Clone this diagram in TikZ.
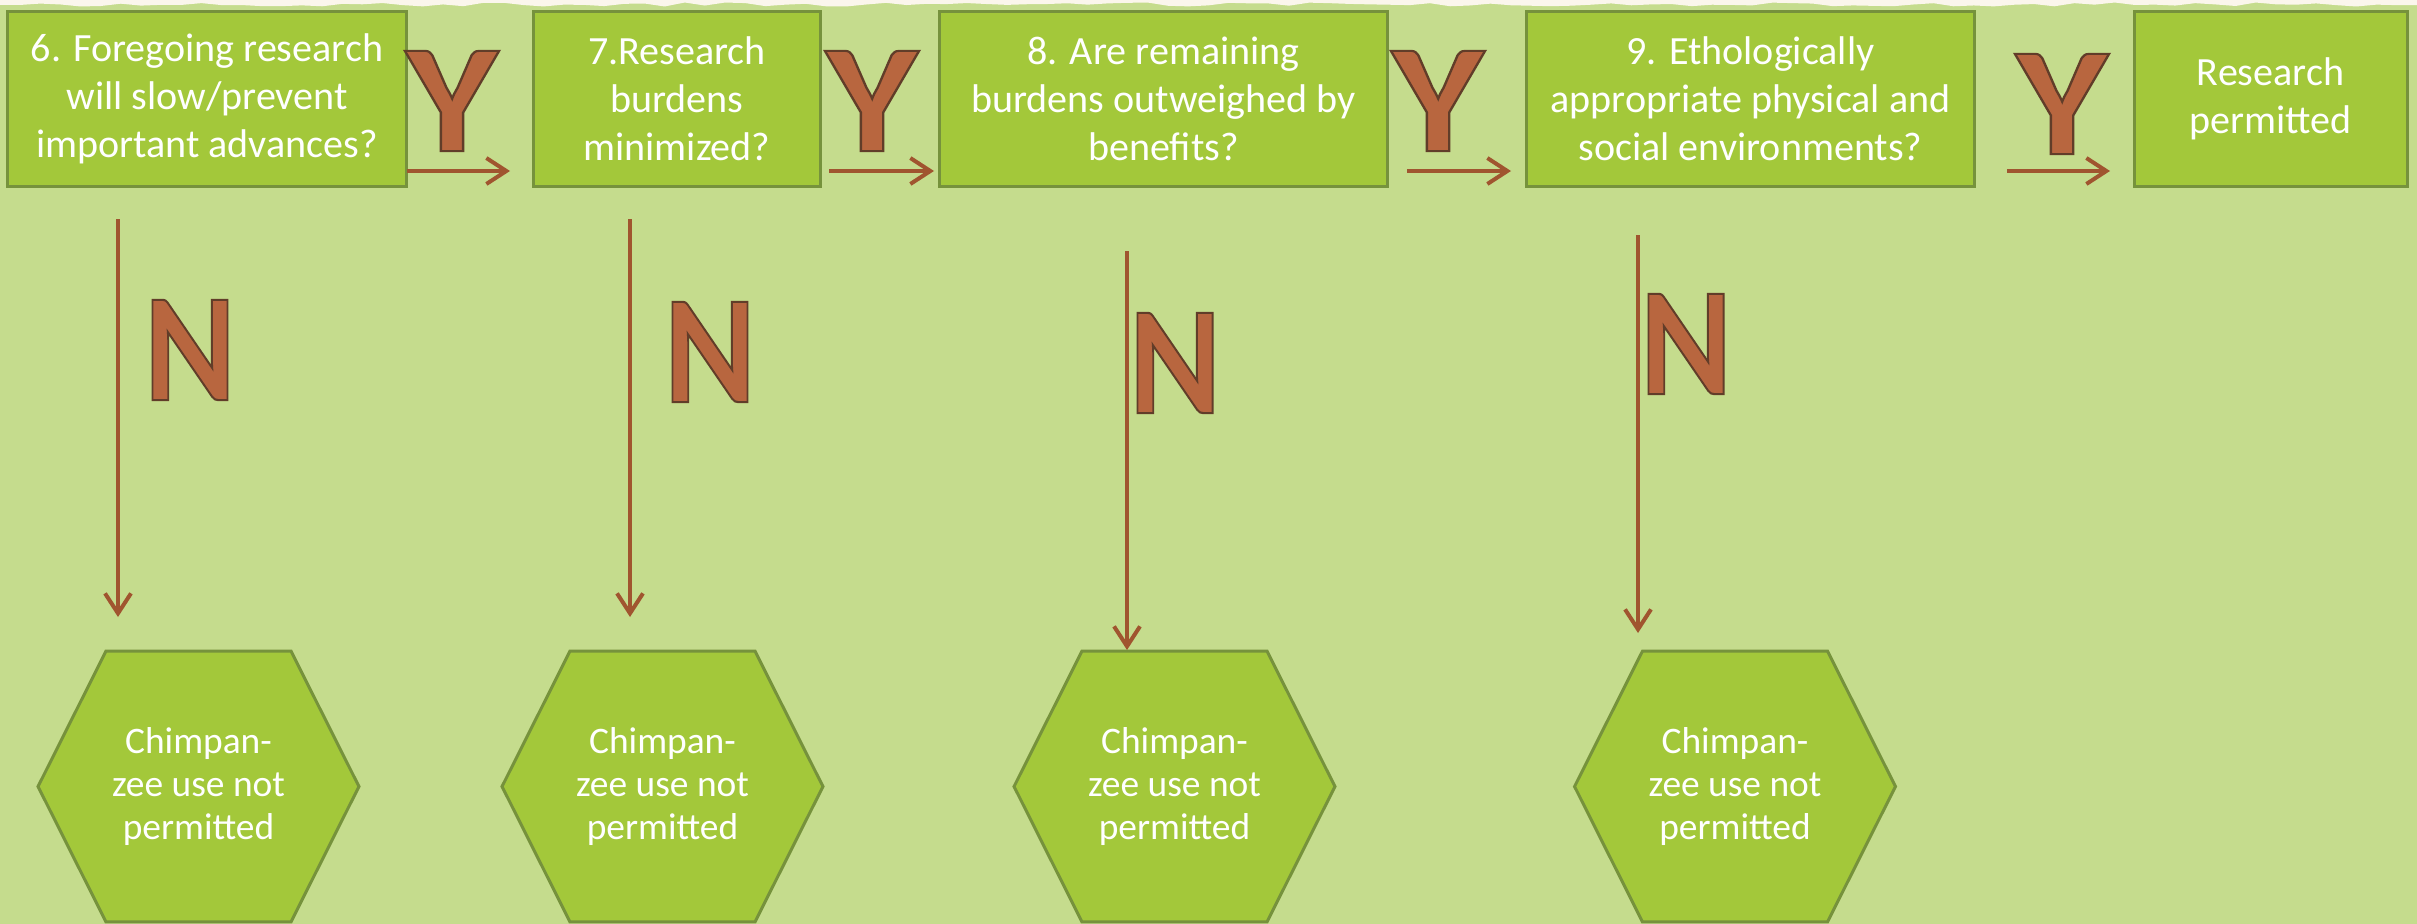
\documentclass[tikz,border=0pt]{standalone}
\usepackage{fontspec}
\setmainfont{Carlito}
\usetikzlibrary{arrows.meta}

\definecolor{bgreen}{HTML}{C5DC8D}
\definecolor{boxfill}{HTML}{A3C83A}
\definecolor{boxline}{HTML}{76923C}
\definecolor{arrowbrown}{HTML}{A0552F}
\definecolor{copper}{HTML}{B8663F}
\definecolor{paper}{HTML}{FBF6EC}

\pgfdeclarelayer{background}
\pgfsetlayers{background,main}

% glyphs filled in the current colour and stroked with a dark edge
\newcommand\edged[1]{\special{pdf:literal direct 2 Tr 0.38 0.24 0.16 RG 1.2 w}#1\special{pdf:literal direct 0 Tr}}

% grid unit: 1 = 0.02cm
\tikzset{
  question/.style={draw=boxline, fill=boxfill, line width=0.06cm,
    minimum height=3.52cm, inner sep=0pt, outer sep=0pt, text=white,
    align=center, font=\fontsize{22.8}{27.3}\selectfont},
  stopnode/.style={minimum width=6.42cm, minimum height=5.42cm,
    inner sep=0pt, outer sep=0pt, text=white, align=center,
    font=\fontsize{21.3}{24.5}\selectfont},
  hexfill/.style={fill=boxfill, draw=boxline, line width=0.06cm, line join=miter},
  flow/.style={draw=arrowbrown, line width=0.08cm,
    -{Straight Barb[length=0.4cm, width=0.52cm]}},
  letter/.style={text=copper, inner sep=0pt,
    font=\fontsize{88}{88}\bfseries\selectfont},
  yes/.style={letter, xscale=1.14},
  no/.style={letter, xscale=0.9},
}

% hexagon drawn around a stop node
\newcommand\hexaround[1]{%
  \path[hexfill] (#1.west) -- ([xshift=1.36cm]#1.north west)
    -- ([xshift=-1.36cm]#1.north east) -- (#1.east)
    -- ([xshift=-1.36cm]#1.south east) -- ([xshift=1.36cm]#1.south west) -- cycle;}

\begin{document}
\begin{tikzpicture}[x=0.02cm, y=-0.02cm]
\useasboundingbox (0,0) rectangle (2417,923);

% question boxes
\node[question, minimum width=8cm] (q1) at (207,99)
  {6. Foregoing research\\will slow/prevent\\important advances?};
\node[question, minimum width=5.76cm] (q2) at (677,99)
  {7.Research\\burdens\\minimized?};
\node[question, minimum width=8.98cm] (q3) at (1163.5,99)
  {8. Are remaining\\burdens outweighed by\\benefits?};
\node[question, minimum width=8.98cm] (q4) at (1750.5,99)
  {9. Ethologically\\appropriate physical and\\social environments?};
\node[question, minimum width=5.46cm] (q5) at (2270.5,99)
  {Research\\permitted};

% stop nodes
\node[stopnode] (s1) at (198.5,786.5) {Chimpan-\\zee use not\\permitted};
\node[stopnode] (s2) at (662.5,786.5) {Chimpan-\\zee use not\\permitted};
\node[stopnode] (s3) at (1174.5,786.5) {Chimpan-\\zee use not\\permitted};
\node[stopnode] (s4) at (1735,786.5) {Chimpan-\\zee use not\\permitted};

\begin{pgfonlayer}{background}
  \fill[bgreen] (-5,-5) rectangle (2422,930);
  % torn paper strip along the top
  \pgfmathsetseed{7}
  \fill[paper] (-5,-5) -- (-5,5)
    \foreach \i in {1,...,120} { -- ({\i*20.14}, {4.5+2*rand}) }
    -- (2422,5) -- (2422,-5) -- cycle;
  \hexaround{s1}
  \hexaround{s2}
  \hexaround{s3}
  \hexaround{s4}
\end{pgfonlayer}

% Y / N labels
\node[yes] (y1) at (452,101) {\edged{Y}};
\node[yes] (y2) at (872,101) {\edged{Y}};
\node[yes] (y3) at (1438,101) {\edged{Y}};
\node[yes] (y4) at (2062,104) {\edged{Y}};
\node[no] (n1) at (190,350) {\edged{N}};
\node[no] (n2) at (710,352) {\edged{N}};
\node[no] (n3) at (1175,363) {\edged{N}};
\node[no] (n4) at (1686,344) {\edged{N}};

% connector ends
\coordinate (h1s) at (407,171);  \coordinate (h1e) at (510,171);
\coordinate (h2s) at (829,171);  \coordinate (h2e) at (934,171);
\coordinate (h3s) at (1407,171); \coordinate (h3e) at (1511,171);
\coordinate (h4s) at (2007,171); \coordinate (h4e) at (2110,171);
\coordinate (v1s) at (118,219);  \coordinate (v1e) at (118,617);
\coordinate (v2s) at (630,219);  \coordinate (v2e) at (630,617);
\coordinate (v3s) at (1127,251); \coordinate (v3e) at (1127,650);
\coordinate (v4s) at (1638,235); \coordinate (v4e) at (1638,633);

\draw[flow] (h1s) -- (h1e);
\draw[flow] (h2s) -- (h2e);
\draw[flow] (h3s) -- (h3e);
\draw[flow] (h4s) -- (h4e);
\draw[flow] (v1s) -- (v1e);
\draw[flow] (v2s) -- (v2e);
\draw[flow] (v3s) -- (v3e);
\draw[flow] (v4s) -- (v4e);
\end{tikzpicture}
\end{document}
